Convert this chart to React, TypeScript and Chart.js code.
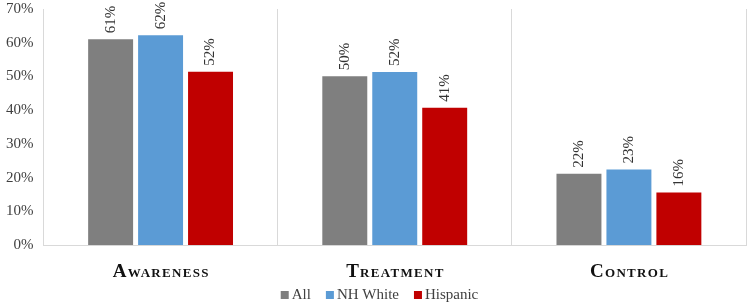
import React, { useEffect, useRef } from "react";
import { Chart, registerables } from "chart.js";

Chart.register(...registerables);

const categories = ["Awareness", "Treatment", "Control"];
const seriesNames = ["All", "NH White", "Hispanic"];
const allValues = [61.3, 50.4, 21.5];
const nhWhiteValues = [62.5, 51.6, 22.7];
const hispanicValues = [51.7, 41.0, 15.9];
const labelAll = ["61%", "50%", "22%"];
const labelNhWhite = ["62%", "52%", "23%"];
const labelHispanic = ["52%", "41%", "16%"];
const yTicks = [0, 10, 20, 30, 40, 50, 60, 70];

const SERIF = "'Liberation Serif', 'Times New Roman', serif";
const colors = ["#7f7f7f", "#5b9bd5", "#c00000"];
const SHIFT = 10;

const valueLabelPlugin = {
  id: "valueLabels",
  afterDatasetsDraw(chart: any) {
    const ctx = chart.ctx;
    const labels = [labelAll, labelNhWhite, labelHispanic];
    ctx.save();
    ctx.font = `15px ${SERIF}`;
    ctx.fillStyle = "#333333";
    ctx.textAlign = "left";
    ctx.textBaseline = "middle";
    chart.data.datasets.forEach((_ds: any, i: number) => {
      const meta = chart.getDatasetMeta(i);
      meta.data.forEach((el: any, j: number) => {
        ctx.save();
        ctx.translate(el.x, el.y - 5);
        ctx.rotate(-Math.PI / 2);
        ctx.fillText(labels[i][j], 0, 0);
        ctx.restore();
      });
    });
    ctx.restore();
  },
};

const categoryLabelPlugin = {
  id: "categoryLabels",
  afterDraw(chart: any) {
    const ctx = chart.ctx;
    const xs = chart.scales.x;
    ctx.save();
    ctx.font = `small-caps bold 19px ${SERIF}`;
    (ctx as any).letterSpacing = "1.3px";
    ctx.fillStyle = "#111111";
    ctx.textAlign = "left";
    ctx.textBaseline = "alphabetic";
    const y = chart.chartArea.bottom + 31.7;
    categories.forEach((c, i) => {
      const w = ctx.measureText(c).width - 1.3;
      const cx = xs.getPixelForValue(i);
      ctx.fillText(c, cx - w / 2, y);
    });
    ctx.restore();
  },
};

const legendPlugin = {
  id: "customLegend",
  afterDraw(chart: any) {
    const ctx = chart.ctx;
    ctx.save();
    ctx.font = `15px ${SERIF}`;
    ctx.textBaseline = "middle";
    ctx.textAlign = "left";
    const box = 8;
    const gap = 3;
    const itemGap = 15;
    const widths = seriesNames.map((n) => box + gap + ctx.measureText(n).width);
    const total = widths.reduce((a, b) => a + b, 0) + itemGap * (seriesNames.length - 1);
    let x = 379.5 - total / 2;
    const y = 295 + SHIFT;
    seriesNames.forEach((n, i) => {
      ctx.fillStyle = colors[i];
      ctx.fillRect(x, y - box / 2, box, box);
      ctx.fillStyle = "#404040";
      ctx.fillText(n, x + box + gap, y);
      x += widths[i] + itemGap;
    });
    ctx.restore();
  },
};

export default function App() {
  const ref = useRef<HTMLCanvasElement | null>(null);
  useEffect(() => {
    if (!ref.current) return;
    const chart = new Chart(ref.current, {
      type: "bar",
      data: {
        labels: categories,
        datasets: [allValues, nhWhiteValues, hispanicValues].map((d, i) => ({
          label: seriesNames[i],
          data: d,
          backgroundColor: colors[i],
          borderColor: "rgba(255,255,255,0.3)",
          borderWidth: 1,
          categoryPercentage: 0.64,
          barPercentage: 0.94,
        })),
      },
      options: {
        animation: false,
        responsive: true,
        maintainAspectRatio: false,
        layout: { autoPadding: false, padding: { left: -4, right: 3, top: 0, bottom: 13 } },
        scales: {
          x: {
            grid: { display: true, offset: true, color: "#d9d9d9", drawTicks: false },
            border: { display: true, color: "#d9d9d9" },
            ticks: {
              padding: 12,
              color: "rgba(0,0,0,0)",
              font: { family: SERIF, size: 19, weight: "small-caps bold" as any },
            },
          },
          y: {
            min: 0,
            max: 70,
            afterBuildTicks: (axis: any) => {
              axis.ticks = yTicks.map((v) => ({ value: v }));
            },
            grid: { display: false, drawTicks: false },
            border: { display: true, color: "#d9d9d9" },
            ticks: {
              padding: 10,
              color: "#404040",
              font: { family: SERIF, size: 15 },
              callback: (v: any) => `${v}%`,
            },
          },
        },
        plugins: {
          legend: { display: false },
          tooltip: { enabled: false },
        },
      },
      plugins: [valueLabelPlugin, categoryLabelPlugin, legendPlugin],
    });
    return () => chart.destroy();
  }, []);
  return (
    <div style={{ position: "fixed", left: 0, top: -SHIFT, width: 749, height: 305 + SHIFT, background: "#fff" }}>
      <canvas ref={ref} />
    </div>
  );
}
